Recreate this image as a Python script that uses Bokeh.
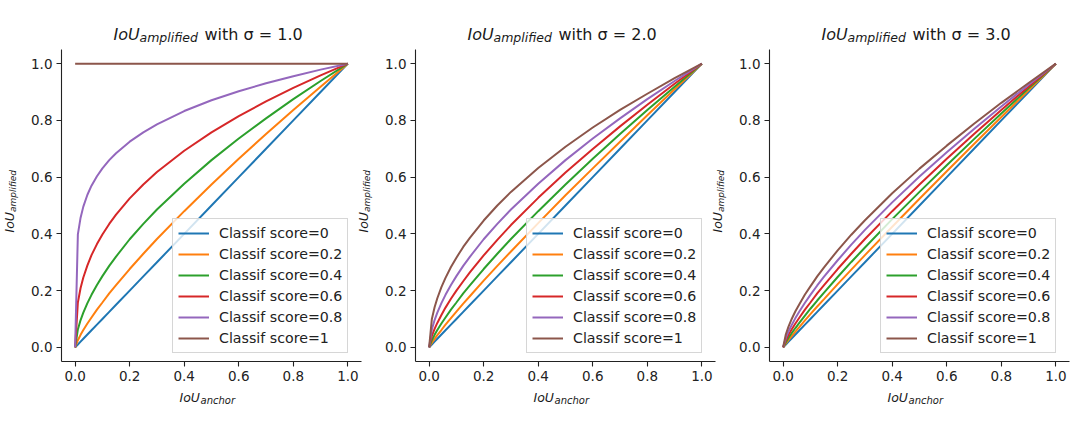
import math
from bokeh.plotting import figure
from bokeh.layouts import row, column
from bokeh.models import (Range1d, FixedTicker, PrintfTickFormatter,
                          Legend, LegendItem, InlineStyleSheet)
from bokeh.core.properties import value
from bokeh.embed import file_html
from bokeh.resources import INLINE

# ---------------- data ----------------
iou_anchor = [0, 0.01, 0.02, 0.03, 0.045, 0.06, 0.08, 0.1, 0.125, 0.15,
              0.2, 0.25, 0.3, 0.4, 0.5, 0.6, 0.7, 0.8, 0.9, 1.0]

score_labels = ["Classif score=0", "Classif score=0.2", "Classif score=0.4",
                "Classif score=0.6", "Classif score=0.8", "Classif score=1"]

sigma_titles = ["1.0", "2.0", "3.0"]

amp_sigma1 = [
    [0, 0.01, 0.02, 0.03, 0.045, 0.06, 0.08, 0.1, 0.125, 0.15, 0.2, 0.25, 0.3, 0.4, 0.5, 0.6, 0.7, 0.8, 0.9, 1.0],
    [0, .025, .044, .061, .084, .105, .133, .158, .190, .219, .276, .330, .382, .480, .574, .665, .752, .837, .919, 1.0],
    [0, .063, .096, .122, .156, .185, .220, .251, .287, .320, .381, .435, .486, .577, .660, .736, .807, .875, .939, 1.0],
    [0, .158, .209, .246, .289, .325, .364, .398, .435, .468, .525, .574, .618, .693, .758, .815, .867, .915, .959, 1.0],
    [0, .398, .457, .496, .538, .570, .603, .631, .660, .684, .725, .758, .786, .833, .871, .903, .931, .956, .979, 1.0],
    [1.0, 1.0, 1.0, 1.0, 1.0, 1.0, 1.0, 1.0, 1.0, 1.0, 1.0, 1.0, 1.0, 1.0, 1.0, 1.0, 1.0, 1.0, 1.0, 1.0],
]

amp_sigma2 = [
    [0, 0.01, 0.02, 0.03, 0.045, 0.06, 0.08, 0.1, 0.125, 0.15, 0.2, 0.25, 0.3, 0.4, 0.5, 0.6, 0.7, 0.8, 0.9, 1.0],
    [0, .016, .030, .043, .061, .080, .103, .126, .154, .181, .235, .287, .338, .438, .536, .631, .725, .818, .910, 1.0],
    [0, .025, .044, .061, .084, .105, .133, .158, .190, .219, .276, .330, .382, .480, .574, .665, .752, .837, .919, 1.0],
    [0, .040, .065, .086, .114, .140, .171, .200, .233, .265, .324, .379, .431, .527, .616, .699, .779, .855, .929, 1.0],
    [0, .063, .096, .122, .156, .185, .220, .251, .287, .320, .381, .435, .486, .577, .660, .736, .807, .875, .939, 1.0],
    [0, .100, .141, .173, .212, .245, .283, .316, .354, .387, .447, .500, .548, .632, .707, .775, .837, .894, .949, 1.0],
]

amp_sigma3 = [
    [0, 0.01, 0.02, 0.03, 0.045, 0.06, 0.08, 0.1, 0.125, 0.15, 0.2, 0.25, 0.3, 0.4, 0.5, 0.6, 0.7, 0.8, 0.9, 1.0],
    [0, .014, .026, .038, .055, .072, .095, .117, .144, .170, .223, .274, .325, .425, .524, .621, .717, .812, .906, 1.0],
    [0, .018, .034, .048, .068, .087, .112, .136, .165, .193, .248, .301, .352, .452, .548, .642, .734, .824, .913, 1.0],
    [0, .025, .044, .061, .084, .105, .133, .158, .190, .219, .276, .330, .382, .480, .574, .665, .752, .837, .919, 1.0],
    [0, .034, .057, .076, .103, .127, .157, .185, .218, .249, .307, .362, .414, .511, .602, .688, .770, .849, .926, 1.0],
    [0, .046, .074, .097, .127, .153, .186, .215, .250, .282, .342, .397, .448, .543, .630, .711, .788, .862, .932, 1.0],
]

tick_values = [0.0, 0.2, 0.4, 0.6, 0.8, 1.0]

colors = ["#1f77b4", "#ff7f0e", "#2ca02c", "#d62728", "#9467bd", "#8c564b"]

# ---------------- layout constants ----------------
FW, FH = 300, 312
X0, X1 = -0.05, 1.05
Y0, Y1 = -0.05, 1.05
FONT = "DejaVu Sans"
TOP, BOTTOM = 49, 52
LEFTS = [61, 53, 53]
TOTAL_W = LEFTS[0] + FW + 1 + 2 * (53 + FW + 1)
TOTAL_H = TOP + FH + BOTTOM
TXT = "#1a1a1a"


def make_panel(idx, series):
    p = figure(frame_width=FW, frame_height=FH, output_backend="svg",
               toolbar_location=None, title=None,
               x_range=Range1d(X0, X1), y_range=Range1d(Y0, Y1),
               min_border_left=LEFTS[idx], min_border_right=1,
               min_border_top=TOP, min_border_bottom=BOTTOM)
    p.outline_line_color = None
    p.xgrid.visible = False
    p.ygrid.visible = False
    p.background_fill_color = "white"
    p.border_fill_color = "white"
    for ax in (p.xaxis[0], p.yaxis[0]):
        ax.ticker = FixedTicker(ticks=tick_values)
        ax.formatter = PrintfTickFormatter(format="%.1f")
        ax.major_tick_in = 0
        ax.major_tick_out = 5
        ax.minor_tick_line_color = None
        ax.axis_line_color = "#222222"
        ax.axis_line_width = 1.1
        ax.major_tick_line_color = "#222222"
        ax.major_tick_line_width = 1.1
        ax.major_label_text_font = FONT
        ax.major_label_text_font_size = "13.5px"
        ax.major_label_text_color = "#222222"
        ax.major_label_standoff = 4

    items = []
    for ys, c, name in zip(series, colors, score_labels):
        r = p.line(iou_anchor, ys, line_color=c, line_width=2)
        items.append(LegendItem(label=name, renderers=[r]))

    leg = Legend(items=items, location=(111, 8),
                 label_text_font=FONT, label_text_font_size="14.2px",
                 label_text_color="#222222",
                 glyph_width=31, glyph_height=18, label_height=18,
                 label_standoff=10, spacing=3, padding=5, margin=0,
                 background_fill_color="white", background_fill_alpha=0.8,
                 border_line_color="#cccccc", border_line_alpha=0.8,
                 border_line_width=1)
    p.add_layout(leg, "center")
    return p


panels = [make_panel(i, d) for i, d in enumerate([amp_sigma1, amp_sigma2, amp_sigma3])]

# ---------------- text overlay (titles and axis labels with subscripts) ----------------
frame_lefts = [LEFTS[0], LEFTS[0] + FW + 1 + 53, LEFTS[0] + 2 * (FW + 1 + 53)]

ov = figure(width=TOTAL_W, height=TOTAL_H, output_backend="svg",
            toolbar_location=None, title=None,
            x_range=Range1d(0, TOTAL_W), y_range=Range1d(TOTAL_H, 0),
            x_axis_type=None, y_axis_type=None, min_border=0)
ov.outline_line_color = None
ov.xgrid.visible = False
ov.ygrid.visible = False
ov.background_fill_alpha = 0
ov.border_fill_alpha = 0
ov.stylesheets = [InlineStyleSheet(css=":host { position: absolute !important; left: 0px !important; top: 0px !important; pointer-events: none; }")]


def txt(xs, ys, texts, size, style, angle=0.0):
    ov.text(x=xs, y=ys, text=texts, text_font=value(FONT),
            text_font_size=value(size), text_font_style=value(style),
            text_align="left", text_baseline="alphabetic",
            text_color=TXT, angle=angle)


# titles
txt([L + 52 for L in frame_lefts], [34] * 3, ["IoU"] * 3, "16px", "italic")
txt([L + 78 for L in frame_lefts], [37] * 3, ["amplified"] * 3, "12.5px", "italic")
txt([L + 143 for L in frame_lefts], [34] * 3,
    ["with \u03c3 = " + s for s in sigma_titles], "16px", "normal")
# x labels
txt([L + 118 for L in frame_lefts], [397] * 3, ["IoU"] * 3, "12.5px", "italic")
txt([L + 139 for L in frame_lefts], [399.5] * 3, ["anchor"] * 3, "10px", "italic")
# y labels (rotated)
txt([L - 52 for L in frame_lefts], [232] * 3, ["IoU"] * 3, "12.5px", "italic", math.pi / 2)
txt([L - 49 for L in frame_lefts], [211.5] * 3, ["amplified"] * 3, "9px", "italic", math.pi / 2)

layout = column(row(*panels, spacing=0), ov, spacing=0)

open("out.html", "w").write(file_html(layout, INLINE))
